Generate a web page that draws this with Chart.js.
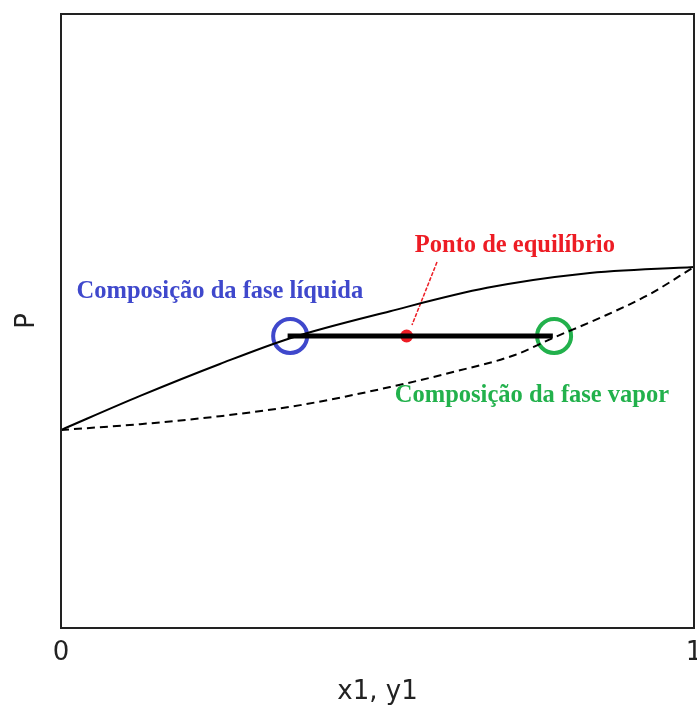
<!DOCTYPE html>
<html>
<head>
<meta charset="utf-8">
<title>Diagrama P-x-y</title>
<script src="https://cdn.jsdelivr.net/npm/chart.js@4.4.1/dist/chart.umd.min.js"></script>
<style>
    html, body { margin: 0; padding: 0; background: #fff; overflow: hidden; }
    #wrap { width: 697px; height: 705px; }
</style>
</head>
<body>
<div id="wrap"><canvas id="pxyChart"></canvas></div>
<script>
// curva do liquido (ponto de bolha)
const liquidX = [0, 0.125, 0.251, 0.362, 0.520, 0.673, 0.825, 1];
const liquidP = [0.3225, 0.378, 0.430, 0.472, 0.516, 0.554, 0.577, 0.588];

// curva do vapor (ponto de orvalho)
const vaporY = [0, 0.125, 0.251, 0.378, 0.520, 0.626, 0.717, 0.777, 0.8515, 0.9305, 1];
const vaporP = [0.3225, 0.332, 0.345, 0.363, 0.3925, 0.4186, 0.4446, 0.4723, 0.505, 0.544, 0.588];

// linha de amarracao e pontos
const tieX = [0.358, 0.777];
const tieP = 0.4756;
const liquidComp = 0.362;
const vaporComp = 0.779;
const equilX = 0.546;
const leaderX = [0.594, 0.5545];
const leaderP = [0.596, 0.4935];

const xTicks = [0, 1];

const toPoints = (xs, ys) => xs.map((x, i) => ({ x: x, y: Array.isArray(ys) ? ys[i] : ys }));

// textos das anotacoes
const notes = [
    { text: 'Composição da fase líquida', x: 0.251, y: 0.547, color: '#3f48cc' },
    { text: 'Ponto de equilíbrio', x: 0.717, y: 0.622, color: '#ed1c24' },
    { text: 'Composição da fase vapor', x: 0.744, y: 0.378, color: '#22b14c' }
];

const framePlugin = {
    id: 'frame',
    afterDatasetsDraw(chart) {
        const { ctx, chartArea: a, scales } = chart;
        ctx.save();
        ctx.strokeStyle = '#222';
        ctx.lineWidth = 2;
        ctx.strokeRect(a.left, a.top, a.right - a.left, a.bottom - a.top);
        ctx.font = 'bold 24.5px "Liberation Serif", "Times New Roman", serif';
        ctx.textAlign = 'center';
        ctx.textBaseline = 'middle';
        notes.forEach(n => {
            ctx.fillStyle = n.color;
            ctx.fillText(n.text, scales.x.getPixelForValue(n.x), scales.y.getPixelForValue(n.y));
        });
        ctx.restore();
    }
};

document.addEventListener("DOMContentLoaded", function () {

    const ctx = document.getElementById('pxyChart').getContext('2d');

    const pxyChart = new Chart(ctx, {
        type: 'scatter',
        data: {
            datasets: [
                {
                    label: 'Líquido',
                    data: toPoints(liquidX, liquidP),
                    showLine: true,
                    borderColor: '#000',
                    borderWidth: 2,
                    pointRadius: 0,
                    cubicInterpolationMode: 'monotone'
                },
                {
                    label: 'Vapor',
                    data: toPoints(vaporY, vaporP),
                    showLine: true,
                    borderColor: '#000',
                    borderWidth: 2,
                    borderDash: [8, 5],
                    pointRadius: 0,
                    cubicInterpolationMode: 'monotone'
                },
                {
                    label: 'Linha de amarração',
                    data: toPoints(tieX, tieP),
                    showLine: true,
                    borderColor: '#000',
                    borderWidth: 5,
                    pointRadius: 0
                },
                {
                    label: 'Indicador',
                    data: toPoints(leaderX, leaderP),
                    showLine: true,
                    borderColor: '#ed1c24',
                    borderWidth: 1.5,
                    borderDash: [4, 1.5],
                    pointRadius: 0
                },
                {
                    label: 'Ponto de equilíbrio',
                    data: [{ x: equilX, y: tieP }],
                    pointRadius: 6.5,
                    pointBorderWidth: 0,
                    backgroundColor: '#ed1c24',
                    borderColor: '#ed1c24'
                },
                {
                    label: 'Fase líquida',
                    data: [{ x: liquidComp, y: tieP }],
                    pointRadius: 17,
                    pointBorderWidth: 4,
                    backgroundColor: 'rgba(0,0,0,0)',
                    borderColor: '#3f48cc'
                },
                {
                    label: 'Fase vapor',
                    data: [{ x: vaporComp, y: tieP }],
                    pointRadius: 17,
                    pointBorderWidth: 4,
                    backgroundColor: 'rgba(0,0,0,0)',
                    borderColor: '#22b14c'
                }
            ]
        },
        options: {
            responsive: true,
            maintainAspectRatio: false,
            animation: false,
            layout: {
                autoPadding: false,
                padding: { top: 14, right: 0, left: 0, bottom: 0 }
            },
            plugins: {
                legend: { display: false },
                tooltip: { enabled: false }
            },
            scales: {
                x: {
                    type: 'linear',
                    min: 0,
                    max: 1,
                    afterBuildTicks: (scale) => {
                        scale.ticks = xTicks.map(v => ({ value: v }));
                    },
                    afterFit: (scale) => {
                        scale.height = 77;
                        scale.paddingLeft = 0;
                        scale.paddingRight = 3;
                    },
                    grid: { display: false },
                    border: { display: false },
                    ticks: {
                        color: '#222',
                        padding: 2,
                        font: { family: 'DejaVu Sans', size: 26 },
                        callback: (v) => String(v)
                    },
                    title: {
                        display: true,
                        text: 'x1, y1',
                        color: '#222',
                        font: { family: 'DejaVu Sans', size: 26, lineHeight: 1 },
                        padding: { top: 0, bottom: 0 }
                    }
                },
                y: {
                    min: 0,
                    max: 1,
                    afterFit: (scale) => {
                        scale.width = 61;
                        scale.paddingTop = 0;
                        scale.paddingBottom = 0;
                    },
                    grid: { display: false },
                    border: { display: false },
                    ticks: { display: false },
                    title: {
                        display: true,
                        text: 'P',
                        color: '#222',
                        font: { family: 'DejaVu Sans', size: 26 },
                        padding: { top: 12, bottom: 0 }
                    }
                }
            }
        },
        plugins: [framePlugin]
    });

});
</script>
</body>
</html>
